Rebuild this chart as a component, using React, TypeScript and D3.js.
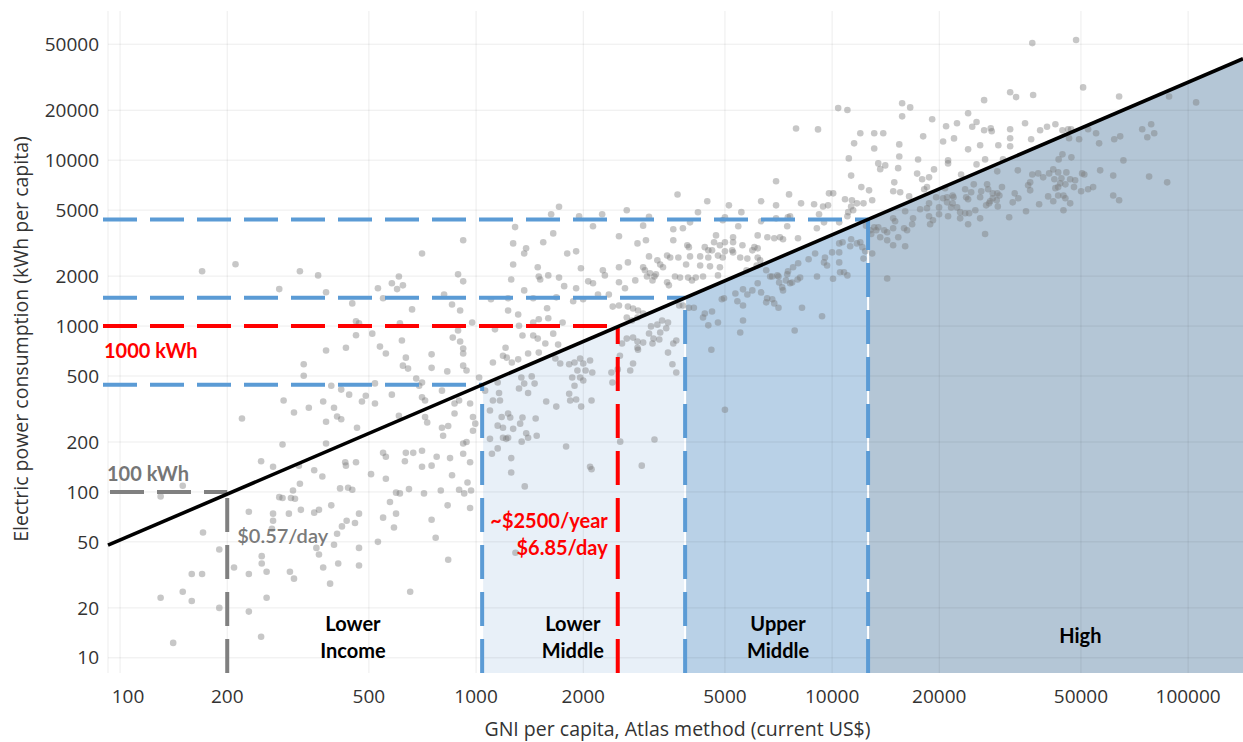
import React from "react";
import * as d3 from "d3";

const W = 1243;
const H = 742;
const PLOT = { left: 108, right: 1243, top: 11, bottom: 673 };

const gniDomain: [number, number] = [92.5, 142600];
const kwhDomain: [number, number] = [8.1, 79300];

const xTicks = [100, 200, 500, 1000, 2000, 5000, 10000, 20000, 50000, 100000];
const yTicks = [10, 20, 50, 100, 200, 500, 1000, 2000, 5000, 10000, 20000, 50000];

// log10(kWh) = slope * log10(GNI) + intercept
const trendSlope = 0.92;
const trendIntercept = -0.13;

// World Bank income thresholds (GNI per capita)
const bandLimits = [1040, 3865, 12620];
const bandFills = ["#e8f0f8", "#b9d1e7", "#b4c6d6"];
const bandLabels = [["Lower", "Income"], ["Lower", "Middle"], ["Upper", "Middle"], ["High"]];
const bandLabelGni = [451, 1870, 7050, 49800];

// poverty-line references
const grayLine = { gni: 200, kwh: 100 };
const redLine = { gni: 2500, kwh: 1000 };

// countries: [GNI per capita, kWh per capita]
const countries: [number, number][] = [
  [705,2740],[211,2360],[170,2140],[320,2140],[360,2020],[607,1990],[580,1810],[623,1760],[600,1670],[530,1690],[280,1670],[379,1600],[548,1470],[449,1370],[661,1260],[460,1070],[469,1040],[611,1040],[511,900],[460,880],[619,818],[431,740],[379,712],[537,752],[558,683],[635,645],[623,577],[644,554],[328,588],[328,502],[392,437],[679,483],[705,457],[692,437],[520,451],[418,414],[440,386],[490,380],[580,386],[288,356],[372,351],[399,322],[339,322],[478,351],[520,341],[705,372],[719,356],[308,301],[407,285],[418,274],[379,265],[463,244],[220,277],[607,288],[719,283],[729,262],[286,193],[379,196],[249,153],[269,142],[318,144],[351,135],[370,124],[429,151],[431,144],[460,151],[548,172],[558,163],[507,128],[558,120],[635,172],[666,172],[705,177],[631,153],[705,142],[150,109],[130,94],[286,92],[306,102],[302,92],[310,91],[320,112],[415,105],[437,106],[449,103],[392,83],[362,78],[351,75],[322,78],[298,74],[280,93],[269,74],[269,67],[230,76],[171,57],[190,45],[209,35],[230,32],[250,41],[250,37],[258,33],[267,60],[300,33],[308,30],[356,46],[362,42],[372,35],[389,28],[410,37],[399,48],[420,62],[407,56],[433,67],[457,65],[469,74],[469,46],[469,36],[530,50],[548,70],[588,61],[596,74],[573,87],[596,99],[611,98],[648,104],[714,98],[653,25],[159,32],[170,32],[130,23],[150,25],[159,22],[190,20],[230,19],[258,23],[249,13.4],[141,12.3],
  [3680,6210],[1710,5240],[1625,4720],[1947,4590],[2260,4720],[2650,4990],[3060,4550],[4200,4850],[1287,3950],[920,3290],[1647,3620],[2130,4000],[2520,3480],[2946,4030],[3000,3290],[2840,3150],[3580,3830],[3810,3890],[3580,3290],[3960,2990],[1544,3200],[1271,3150],[1382,2940],[1365,2740],[1803,2740],[1910,2820],
  [2670,2420],[3060,2630],[3230,2490],[3290,2350],[3440,2660],[3510,2590],[3700,2590],[3890,2350],[1271,2350],[1490,2260],[1970,2230],[2270,2170],[2300,2020],[2520,2260],[2946,2260],[2980,2170],[3080,2080],[3200,2050],[3350,2260],[3620,1990],[3940,1960],[4040,1885],[4140,1960],[890,2050],[920,1860],[1255,1910],[1500,1990],[1514,1910],[1595,2020],[1710,1960],[1768,1740],[1910,1690],[2065,1860],[2130,1810],[2520,1835],[2620,1690],[2800,1885],[3020,1990],[3130,1885],[3170,1990],[3440,1835],[3480,1760],[3740,1960],
  [813,1550],[856,1350],[902,1240],[975,1050],[1101,1450],[1230,1470],[1230,1240],[1313,1175],[1365,1640],[1447,1470],[1583,1280],[1680,1490],[1874,1410],[1998,1450],[2200,1550],[2360,1550],[2420,1310],[2520,1330],[2670,1310],[2760,1275],[2850,1240],[2650,1125],[2740,1080],[2840,1125],[2946,1190],[3100,995],[3230,1020],[3330,1080],[3460,1050],[3720,1330],[3810,1330],[3960,1290],[4090,1290],
  [1750,1050],[1500,1100],[1447,1050],[1595,1115],[1647,900],[1700,773],[1320,1005],[1350,877],[1447,877],[1490,840],[1565,785],[1500,692],[1400,683],[1210,740],[1190,662],[1220,645],[1260,603],[1313,630],[1130,955],[902,807],[890,940],[860,852],[920,683],[920,732],[750,675],[920,577],[940,540],[830,533],[1115,603],[1670,637],[1723,595],[1826,588],[1890,603],[1960,637],[2000,595],[2090,620],[1926,540],[1960,490],[2000,470],[2030,540],[1862,490],[1890,437],[2120,525],[2400,525],[2415,457],[2500,548],[2535,662],[2570,785],[2650,840],[2760,852],[2840,806],[2946,795],[2840,740],[2850,720],[3060,902],[3150,840],[3130,785],[3290,915],[3420,970],[3460,692],[3580,785],[3650,818],[3560,588],[3650,525],[3270,830],[2710,540],[2760,595],[1020,490],[750,560],[802,408],[870,341],[896,356],[962,341],[980,283],[870,297],[802,244],[835,250],[808,218],[920,196],[940,200],[775,163],[845,160],[750,144],[980,234],[920,170],[962,151],[856,126],[1060,408],[1094,310],[1115,356],[1150,457],[1167,356],[1160,395],[1180,283],[1230,297],[1247,281],[1150,251],[1190,244],[1230,212],[1215,209],[1094,209],[1271,240],[1330,258],[1350,281],[1150,183],[1108,170],[1255,160],[1255,131],[1400,212],[1470,277],[1480,218],[1400,395],[1365,450],[1320,420],[1340,490],[1433,497],[1460,450],[1574,351],[1680,327],[1826,391],[1838,356],[1910,361],[1973,327],[2110,356],[1790,188],[2090,142],[2110,137],[2540,201],[2920,144],[3170,207],
  [1370,108],[1190,212],[1343,201],[1383,226],[796,102],[896,103],[926,98],[946,114],[968,102],[832,83],[962,80],[750,68],[770,53],[835,39],[995,258],[1290,43],
  [15730,22050],[16570,20800],[15730,18370],[10400,20600],[11040,20050],[7920,15530],[9130,15330],[19100,17650],[20900,16000],[22430,16700],[12000,14520],[13130,14520],[13920,14520],[11530,12630],[13130,11750],[15440,12450],[15440,10530],[18020,13920],[20500,12970],[22000,13530],[11140,10250],[13480,9560],[14100,9300],[13650,8830],[15330,8950],[17440,10100],[21170,9970],[21170,9560],[11310,8070],[17330,8300],[17900,7670],[18720,7880],[19330,8800],[14950,7350],[6960,7460],[12080,6880],[12700,6580],[14850,6490],[18470,6880],[18140,6680],[7570,6220],[9800,6310],[10070,6310],[10870,5810],[11370,5730],[11740,5490],[12250,5490],[12960,5730],[15530,6400],[16460,6050],[4460,5650],[6320,5650],[5130,5340],[6960,5340],[8180,5490],[8900,5420],[9430,5260],[9740,5340],[9190,4720],[11310,5260],[11460,4990],[11040,4590],[11100,4860],[5560,4860],[6320,4280],[6960,4460],[7510,4530],[7620,4590],[5000,4530],[4930,4340],[5450,4000],[6180,3520],[6580,3430],[6880,3380],[7140,3430],[7280,3340],[7480,4000],[8020,3380],[9060,3890],[9490,4220],[10470,4220],[4720,3520],[4660,3200],[4840,3070],[4600,2860],[5270,3430],[5240,2860],[5600,3070],[6050,2990],[5970,2860],[6180,2940],[5000,2820],[5270,2780],[4780,2660],[4930,2590],[5520,2590],[5780,2550],[6180,2590],[6280,2490],[4540,2290],[4260,2320],[4390,2990],[4340,1990],[4780,2020],[5750,2170],[6140,2320],[6530,2170],[6700,1990],[7020,2020],[7100,1830],[7240,1710],[7480,2050],[7520,2140],[7720,1830],[8000,1910],[8130,1960],[7770,2260],[8030,2390],[8590,2530],[8960,2740],[9070,1990],[9490,2420],[9680,2320],[9550,2590],[10000,2780],[10470,2420],[10530,2110],[10800,2110],[11040,2020],[10470,2780],[10060,1930],[10700,3200],[11310,3340],[11740,3150],[12000,3200],[12250,2550],[12960,2740],[12790,3780],[13130,3940],[13300,3780],[13480,3940],[14010,3780],[13650,3430],[14840,3890],[15340,3430],[16240,3780],[16040,3030],[14280,1935],[14280,3290],[16880,4460],[17670,5060],[18720,5490],[18470,5130],[18720,4590],[18850,4110],[19970,4720],[20500,5900],[21170,4590],[21030,5980],[21930,5980],[21590,5190],[22440,5190],[16040,4920],[14840,4460],[15030,4280],[4390,1190],[4340,1125],[4490,1010],[4600,1225],[4900,1450],[4970,1470],[4780,1050],[4580,720],[5350,1570],[5420,1410],[5620,1665],[5620,1330],[5520,915],[5620,1080],[5780,1550],[5970,1640],[6180,1810],[6320,1595],[6530,1390],[6570,1470],[6790,1450],[6880,1370],[7070,1290],[6790,1990],[7070,1990],[7280,1640],[7420,1885],[7620,1810],[8230,1290],[9370,1145],[7850,940],[5000,313],
  [36500,50800],[48450,53000],[50700,27460],[31630,25670],[32870,24000],[36700,24700],[26730,23000],[64000,24200],[88400,24200],[105300,22300],[24100,19170],[25450,17000],[24750,15900],[26730,15140],[27900,15560],[28080,14930],[31630,15350],[34830,16700],[38400,15140],[40150,15900],[42380,16480],[44360,15140],[46000,15350],[46930,15350],[31630,13560],[31630,12130],[36230,13360],[26050,12300],[29300,12300],[24100,11620],[26900,10110],[30200,10110],[25450,9430],[23030,8200],[46300,13560],[49400,13360],[52360,15350],[55140,14520],[56230,12630],[62000,13360],[64440,13920],[74300,15350],[78740,16480],[80300,14520],[76800,13740],[44360,10840],[43280,10110],[47000,10400],[65800,9970],[29100,8560],[33240,8680],[36500,8200],[36000,7350],[37920,8320],[39160,7880],[40700,8320],[41800,8800],[43150,8440],[44070,7770],[45500,8440],[43710,7250],[45210,7150],[46630,7670],[48150,7560],[50380,8320],[51100,8200],[47800,6880],[42100,7670],[42380,6780],[43150,6880],[56610,8680],[61600,8070],[77700,7960],[87320,7350],[50060,6490],[52360,6680],[54100,6880],[61600,6130],[64000,5730],[36000,6580],[35530,7060],[32580,6310],[32160,5570],[33350,5890],[30000,6880],[29100,6310],[29500,6130],[28270,6310],[27250,7150],[26230,6490],[27430,6680],[25000,7150],[23640,6680],[24580,6400],[24100,5810],[23800,5980],[26050,5980],[27790,5650],[28270,5890],[29000,5730],[27080,5340],[27600,5490],[29200,5260],[38150,5420],[40440,6050],[41800,5650],[43150,6130],[44650,6130],[45210,5890],[46630,5490],[44650,4990],[35050,4920],[31430,4530],[22890,4860],[23640,4790],[24260,4790],[24100,4110],[26900,3590],
  [20760,6780],[21800,6130],[21030,5570],[19600,5980],[19970,5190],[26050,4460],[25250,4990],[22890,4460],[21800,5490],[19200,4340],[15930,3890],[16780,4110],[14280,3680],[14840,3070],[12450,4030],[12880,3590],[12160,2990],[12390,2820],[11240,3030],[10470,3150],[3990,4220],[3920,3070],[4490,2860],[5000,3200],[5270,3200],[3990,2630],[4260,2630],[4490,2590],[4840,2260]
];

const DASH = "34 13";
const BLUE = "#5b9bd5";
const RED = "#ff0000";
const GRAY = "#808080";
const TICK_FONT = "'Open Sans', 'DejaVu Sans', sans-serif";
const NOTE_FONT = "Lato, 'Open Sans', sans-serif";

export default function App() {
  const x = d3.scaleLog().domain(gniDomain).range([PLOT.left, PLOT.right]);
  const y = d3.scaleLog().domain(kwhDomain).range([PLOT.bottom, PLOT.top]);
  const trend = (g: number) => Math.pow(10, trendSlope * Math.log10(g) + trendIntercept);

  const trendPath = d3
    .line<number>()
    .x((g) => x(g))
    .y((g) => y(trend(g)))(gniDomain) as string;

  const edges = [...bandLimits, gniDomain[1]];
  const bandPaths = bandLimits.map((from, i) => {
    const to = edges[i + 1];
    return d3
      .area<number>()
      .x((g, j) => x(g) + (j === 0 ? 1 : i === bandLimits.length - 1 ? 0 : -1))
      .y0(PLOT.bottom)
      .y1((g) => y(trend(g)))([from, to]) as string;
  });

  const hStart = PLOT.left - 5;

  return (
    <svg
      width={W}
      height={H}
      viewBox={`0 0 ${W} ${H}`}
      style={{ position: "absolute", left: 0, top: 0, background: "#fff" }}
    >
      <rect x={0} y={0} width={W} height={H} fill="#fff" />

      {/* income bands */}
      {bandPaths.map((p, i) => (
        <path key={`band${i}`} d={p} fill={bandFills[i]} />
      ))}

      {/* grid */}
      <g stroke="#000" strokeOpacity={0.075} strokeWidth={1}>
        <line x1={PLOT.left} x2={PLOT.left} y1={PLOT.top} y2={PLOT.bottom} />
        {xTicks.map((t) => (
          <line key={`gx${t}`} x1={x(t)} x2={x(t)} y1={PLOT.top} y2={PLOT.bottom} />
        ))}
        {yTicks.map((t) => (
          <line key={`gy${t}`} x1={PLOT.left} x2={PLOT.right} y1={y(t)} y2={y(t)} />
        ))}
      </g>

      {/* countries */}
      <g fill="#7a7a7a" fillOpacity={0.42}>
        {countries.map(([g, k], i) => (
          <circle key={`c${i}`} cx={x(g)} cy={y(k)} r={3.3} />
        ))}
      </g>

      {/* dashed reference lines */}
      <g fill="none" strokeWidth={4} strokeDasharray={DASH}>
        {bandLimits.map((g) => (
          <g key={`bl${g}`} stroke={BLUE}>
            <line x1={hStart} x2={x(g)} y1={y(trend(g))} y2={y(trend(g))} />
            <line x1={x(g)} x2={x(g)} y1={PLOT.bottom} y2={y(trend(g))} />
          </g>
        ))}
        <g stroke={RED}>
          <line x1={hStart} x2={x(redLine.gni)} y1={y(redLine.kwh)} y2={y(redLine.kwh)} />
          <line x1={x(redLine.gni)} x2={x(redLine.gni)} y1={PLOT.bottom} y2={y(redLine.kwh)} />
        </g>
        <g stroke={GRAY}>
          <line x1={PLOT.left + 2} x2={x(grayLine.gni)} y1={y(grayLine.kwh)} y2={y(grayLine.kwh)} />
          <line x1={x(grayLine.gni)} x2={x(grayLine.gni)} y1={PLOT.bottom} y2={y(grayLine.kwh)} />
        </g>
      </g>

      {/* trend line */}
      <path d={trendPath} fill="none" stroke="#000" strokeWidth={3.6} />

      {/* axis ticks */}
      <g fontFamily={TICK_FONT} fontSize={19} fill="#333">
        {xTicks.map((t, i) => (
          <text key={`tx${t}`} x={x(t) + (i === 0 ? 8 : 0)} y={703} textAnchor="middle">
            {t}
          </text>
        ))}
        {yTicks.map((t) => (
          <text key={`ty${t}`} x={99} y={y(t)} dy="0.35em" textAnchor="end">
            {t}
          </text>
        ))}
      </g>

      {/* axis titles */}
      <g fontFamily={TICK_FONT} fontSize={19.5} fill="#333">
        <text x={(PLOT.left + PLOT.right) / 2 + 2} y={736} textAnchor="middle">
          GNI per capita, Atlas method (current US$)
        </text>
        <text transform={`translate(28, 339) rotate(-90)`} textAnchor="middle">
          Electric power consumption (kWh per capita)
        </text>
      </g>

      {/* annotations */}
      <g fontFamily={NOTE_FONT} fontWeight={700} fontSize={20}>
        <text x={hStart + 1} y={y(redLine.kwh) + 32} fill={RED}>1000 kWh</text>
        <text x={PLOT.left - 1} y={y(grayLine.kwh) - 11} fill="#767676">100 kWh</text>
        <text x={x(grayLine.gni) + 10} y={y(grayLine.kwh) + 51} fill="#7a7a7a" fontWeight={600}>
          $0.57/day
        </text>
        <text x={x(redLine.gni) - 10} y={528} fill={RED} textAnchor="end">~$2500/year</text>
        <text x={x(redLine.gni) - 10} y={555} fill={RED} textAnchor="end">$6.85/day</text>
      </g>

      {/* band labels */}
      <g fontFamily={NOTE_FONT} fontWeight={700} fontSize={20} fill="#000" textAnchor="middle">
        {bandLabels.map((lines, i) =>
          lines.map((ln, j) => (
            <text
              key={`lab${i}${j}`}
              x={x(bandLabelGni[i])}
              y={lines.length === 1 ? PLOT.bottom - 30 : PLOT.bottom - 42 + j * 27}
            >
              {ln}
            </text>
          ))
        )}
      </g>
    </svg>
  );
}
